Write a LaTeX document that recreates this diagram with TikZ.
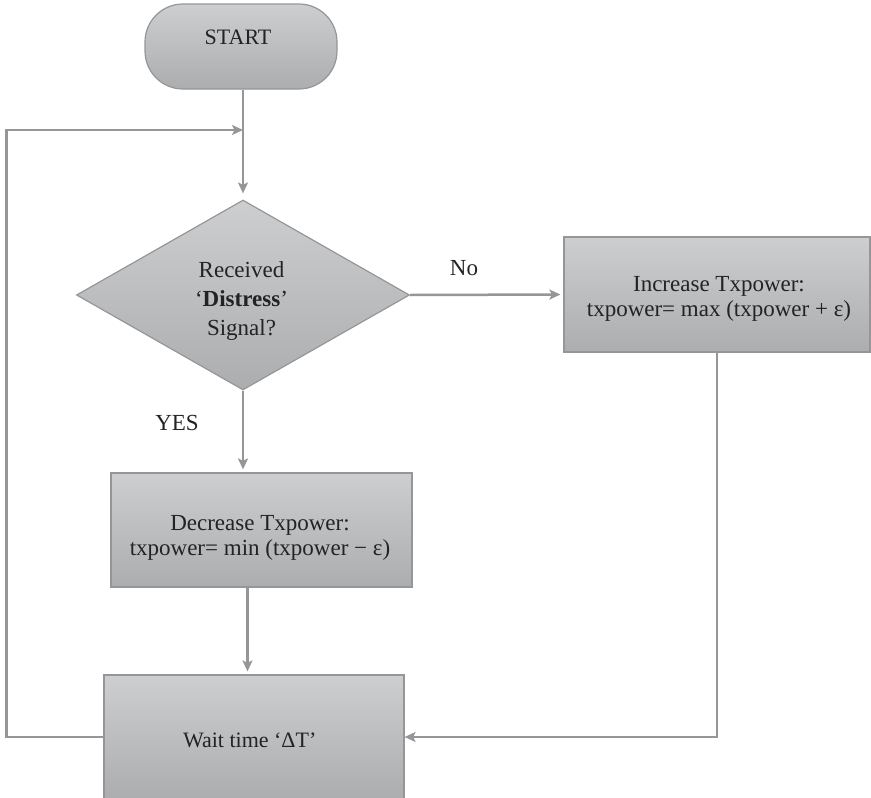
\documentclass[tikz,border=0pt]{standalone}
\usepackage{fontspec}
\setmainfont{Liberation Serif}
\usetikzlibrary{shapes.geometric,arrows.meta}
\definecolor{fillTop}{RGB}{205,206,208}
\definecolor{fillBot}{RGB}{172,173,175}
\definecolor{edgec}{RGB}{150,150,152}
\definecolor{ink}{RGB}{35,35,35}
\begin{document}
\begin{tikzpicture}[x=1pt,y=-1pt,
  text=ink,
  big/.style={font=\fontsize{23}{25}\selectfont},
  mid/.style={font=\fontsize{22}{25}\selectfont},
  txt/.style={inner sep=0pt, align=center},
  box/.style={draw=edgec, line width=1.2pt, top color=fillTop, bottom color=fillBot, inner sep=0pt},
  conn/.style={draw=edgec, line width=2.5pt, -{Stealth[length=11pt,width=10pt,inset=2.5pt]}}]
\useasboundingbox (0,0) rectangle (871,798);
% shapes
\node[box, rounded corners=38pt, minimum width=192pt, minimum height=85pt] (start) at (241,46.5) {};
\node[box, diamond, aspect=1.75, minimum width=333pt, minimum height=190pt] (dec) at (243,295) {};
\node[box, minimum width=306pt, minimum height=115pt] (inc) at (717,294.5) {};
\node[box, minimum width=301pt, minimum height=114pt] (decr) at (261.5,530) {};
\node[box, minimum width=300pt, minimum height=124pt] (wait) at (254,737) {};
% texts
\node[txt, mid] (tstart) at (238,37.7) {START};
\node[txt, big, font=\fontsize{23}{29}\selectfont] (tdec) at (241.5,300.7) {Received\\`\textbf{Distress}'\\Signal?};
\node[txt, big] (tinc) at (719,299.4) {Increase Txpower:\\txpower= max (txpower + ε)};
\node[txt, big] (tdecr) at (260,537.9) {Decrease Txpower:\\txpower= min (txpower − ε)};
\node[txt, mid] (twait) at (249.7,740.6) {Wait time `ΔT'};
\node[txt, big] (no) at (464,268) {No};
\node[txt, big] (yes) at (177,423) {YES};
% connectors
\coordinate (j) at (243,130);
\draw[conn, shorten >=6pt] (dec.north |- start.south) -- (dec.north);
\draw[conn] (wait.west) -- ++(-97,0) |- (j);
\draw[conn, shorten >=3pt] (dec.east) -- (inc.west);
\draw[conn, shorten >=3pt] (dec.south) -- (dec.south |- decr.north);
\draw[conn, shorten >=3pt] ([xshift=-14pt]decr.south) -- ([xshift=-14pt]decr.south |- wait.north);
\draw[conn] (inc.south) -- (inc.south |- wait.east) -- (wait.east);
\end{tikzpicture}
\end{document}
